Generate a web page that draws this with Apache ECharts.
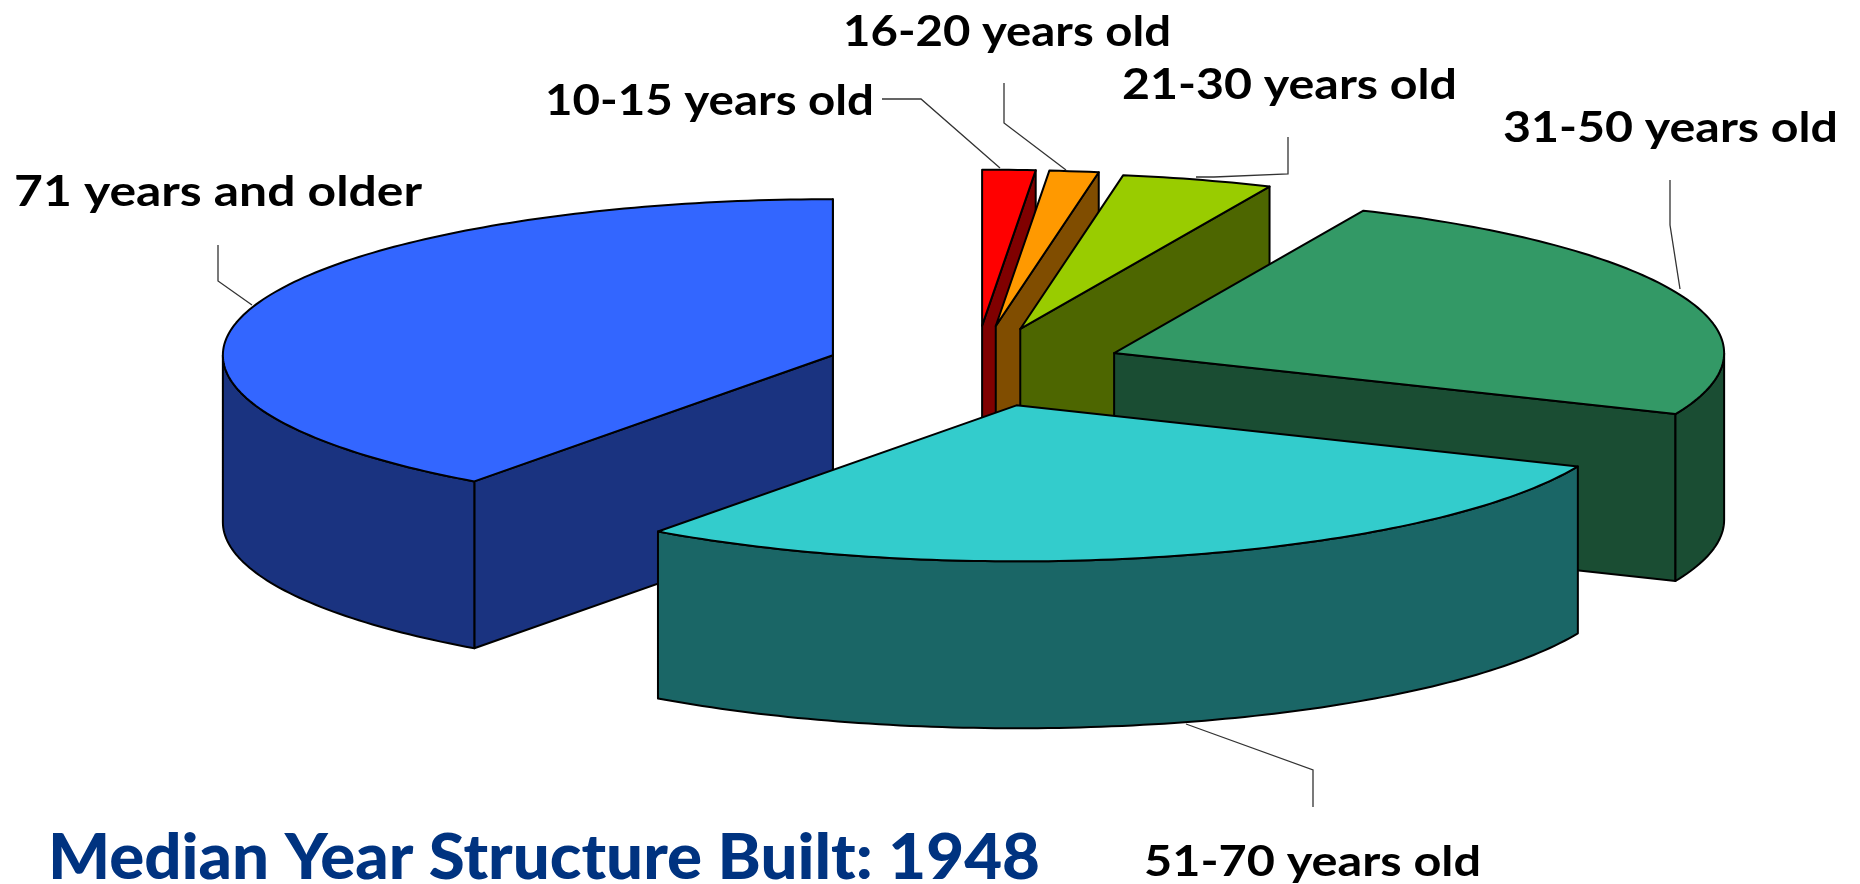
<!DOCTYPE html>
<html>
<head>
<meta charset="utf-8">
<style>html,body{margin:0;padding:0;background:#fff}#c{width:1860px;height:884px}</style>
<script src="https://cdn.jsdelivr.net/npm/echarts@6/dist/echarts.min.js"></script>
</head>
<body>
<div id="c"></div>
<script>
// Data, clockwise from 12 o'clock
const categories = ['10-15 years old','16-20 years old','21-30 years old','31-50 years old','51-70 years old','71 years and older'];
const shares = [1.4, 1.3, 4.0, 24.7, 28.6, 40.0];
const topColors = ['#FF0000','#FF9900','#99CC00','#339966','#33CCCC','#3366FF'];
const explodes = [0.265, 0.265, 0.255, 0.245, 0.255, 0.245];
const drawOrder = [0, 1, 2, 3, 5, 4];   // painter's order, back to front
const depth = 1.07;                     // wall height in y-axis units
const titleText = 'Median Year Structure Built: 1948';

// Text placement: [left, baseline, width]
const labelBoxes = [[545,114,329],[843,45,328],[1122,98,335],[1503,141,335],[1144,875,337],[14,205,408]];
const titleBox = [48,877,992];
const leaders = [
  [[882,99],[921,99],[1000,168]],
  [[1004,83],[1004,123],[1066,170]],
  [[1288,137],[1288,174],[1214,177],[1196,177]],
  [[1670,180],[1670,225],[1680,289]],
  [[1313,807],[1313,770],[1186,724]],
  [[218,245],[218,281],[252,305]]
];

const total = shares.reduce((a,b)=>a+b,0);
const angles = [];
let acc = 0;
shares.forEach(v => { const a0 = acc/total*360; acc += v; angles.push([a0, acc/total*360]); });

function darken(hex){
  const n = parseInt(hex.slice(1),16);
  const c = [(n>>16)&255,(n>>8)&255,n&255].map(v=>Math.round(v/2));
  return `rgb(${c[0]},${c[1]},${c[2]})`;
}
const rad = d => d*Math.PI/180;

function renderSlice(params, api){
  const i = api.value(0);
  const [a0,a1] = angles[i];
  const mid = (a0+a1)/2;
  const ox = explodes[i]*Math.sin(rad(mid)), oy = explodes[i]*Math.cos(rad(mid));
  const P = (r,a,down) => api.coord([ox + r*Math.sin(rad(a)), oy + r*Math.cos(rad(a)) - (down?depth:0)]);
  const arc = (from,to,down) => {
    const pts = [], n = Math.max(2, Math.ceil(Math.abs(to-from)));
    for (let k=0;k<=n;k++) pts.push(P(1, from+(to-from)*k/n, down));
    return pts;
  };
  const wall = darken(topColors[i]);
  const line = {stroke:'#000', lineWidth:2, lineJoin:'round'};
  const poly = (points, fill) => ({type:'polygon', shape:{points}, style:Object.assign({fill}, line)});
  const children = [];
  const faces = d => { const x = ((d%360)+360)%360; return x>90 && x<270; };
  if (faces(a1+90) || a1>=360) children.push(poly([P(0,a1,false),P(1,a1,false),P(1,a1,true),P(0,a1,true)], wall));
  if (faces(a0-90)) children.push(poly([P(0,a0,false),P(1,a0,false),P(1,a0,true),P(0,a0,true)], wall));
  const s = Math.max(a0,90), e = Math.min(a1,270);
  if (e>s) children.push(poly(arc(s,e,false).concat(arc(e,s,true)), wall));
  children.push(poly([P(0,a0,false)].concat(arc(a0,a1,false)), topColors[i]));
  return {type:'group', children};
}

// Fit a real text run to the width it has in the reference.
// verticalAlign 'bottom' sits on the line box, so the run is moved down by the font's descent.
const ctx = document.createElement('canvas').getContext('2d');
function fitted(text, box, size, weight, fill){
  const font = `${weight} ${size}px Lato`;
  ctx.font = font;
  return {type:'text', x:box[0], y:box[1] + size*0.21, scaleX:box[2]/ctx.measureText(text).width, silent:true,
          style:{text, font, fill, align:'left', verticalAlign:'bottom'}};
}

const graphics = [];
leaders.forEach(points => graphics.push({type:'polyline', silent:true, shape:{points},
  style:{stroke:'#333', lineWidth:1.3, fill:null}}));
categories.forEach((c,i) => graphics.push(fitted(c, labelBoxes[i], 42, 'bold', '#000')));
graphics.push(fitted(titleText, titleBox, 62, '900', '#003380'));

const chart = echarts.init(document.getElementById('c'), null, {renderer:'canvas'});
chart.setOption({
  animation:false,
  backgroundColor:'#fff',
  grid:{left:365, width:1220, top:211, height:312},
  xAxis:{type:'value', min:-1, max:1, show:false},
  yAxis:{type:'value', min:-1, max:1, show:false},
  series:[{
    type:'custom',
    coordinateSystem:'cartesian2d',
    clip:false,
    silent:true,
    renderItem:renderSlice,
    encode:{x:1,y:2},
    data:drawOrder.map(i => [i, 0, 0, shares[i]])
  }],
  graphic:graphics
});
</script>
</body>
</html>
